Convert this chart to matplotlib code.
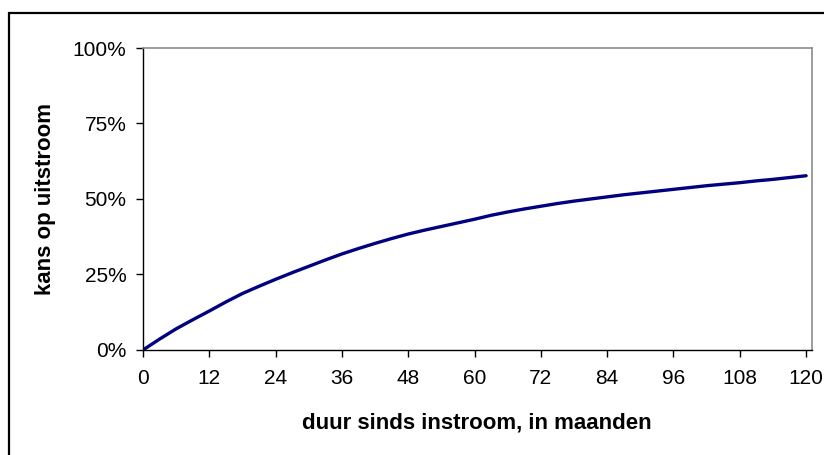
import matplotlib.pyplot as plt
from matplotlib.patches import Rectangle
from matplotlib.ticker import PercentFormatter

maanden = [0, 3, 6, 9, 12, 15, 18, 21, 24, 27, 30, 33, 36, 39, 42, 45, 48,
           51, 54, 57, 60, 63, 66, 69, 72, 75, 78, 81, 84, 87, 90, 93, 96,
           99, 102, 105, 108, 111, 114, 117, 120]
kans = [0.0, 3.6, 7.0, 10.0, 12.9, 15.9, 18.7, 21.1, 23.4, 25.6, 27.7,
        29.8, 31.8, 33.6, 35.3, 36.9, 38.4, 39.7, 40.9, 42.1, 43.3, 44.6,
        45.7, 46.7, 47.6, 48.5, 49.3, 50.0, 50.7, 51.4, 52.0, 52.6, 53.2,
        53.8, 54.4, 54.9, 55.4, 56.0, 56.5, 57.1, 57.7]

x_ticks = list(range(0, 121, 12))
y_ticks = [0, 25, 50, 75, 100]

plt.rcParams['font.family'] = ['Liberation Sans', 'DejaVu Sans']

fig = plt.figure(figsize=(8.24, 4.55), dpi=100)
ax = fig.add_axes([0.1735, 0.2308, 0.8115, 0.6637])

ax.plot(maanden, kans, color='#000080', linewidth=2.4, solid_capstyle='round')

ax.set_xlim(0, 121)
ax.set_ylim(0, 100)
ax.set_xticks(x_ticks)
ax.set_yticks(y_ticks)
ax.yaxis.set_major_formatter(PercentFormatter(decimals=0))

ax.tick_params(direction='out', length=5, width=1, labelsize=15, color='black')
ax.tick_params(axis='y', pad=7)
ax.tick_params(axis='x', pad=9)

for side in ['top', 'right']:
    ax.spines[side].set_color('#8c8c8c')
    ax.spines[side].set_linewidth(1.2)
for side in ['left', 'bottom']:
    ax.spines[side].set_color('black')
    ax.spines[side].set_linewidth(1.0)

ax.set_xlabel('duur sinds instroom, in maanden', fontsize=16, fontweight='bold', labelpad=17)
ax.set_ylabel('kans op uitstroom', fontsize=16, fontweight='bold', labelpad=12)

# rand om de hele grafiek
fig.patches.append(Rectangle((8.5 / 824, -0.1), 1.2, 1 - 12.5 / 455 + 0.1,
                             transform=fig.transFigure, fill=False,
                             edgecolor='black', linewidth=1.6))

plt.savefig('out.png', dpi=100)
